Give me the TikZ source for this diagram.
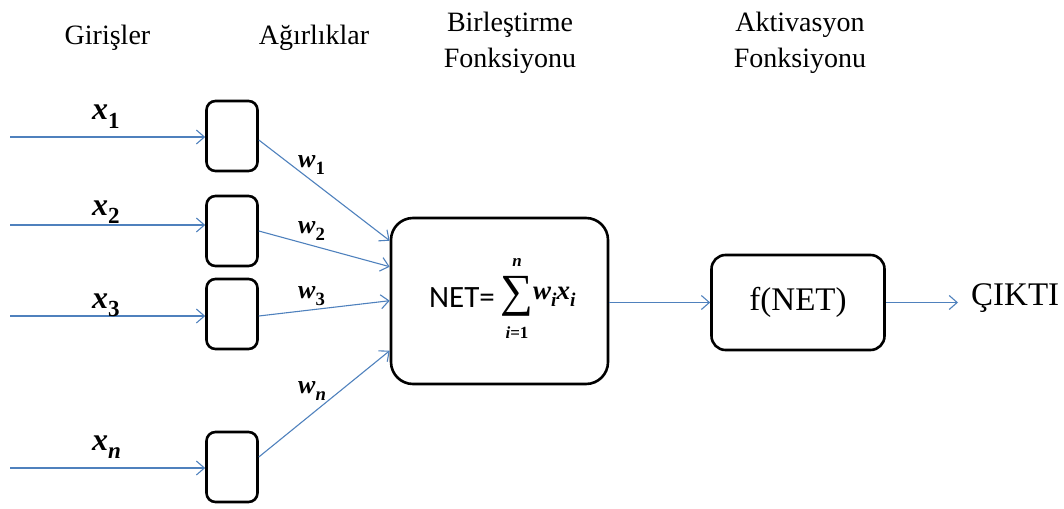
\documentclass[tikz,border=0pt]{standalone}
\usepackage{fontspec}
\setmainfont{Liberation Serif}
\newfontfamily\calibri{Carlito}
\usetikzlibrary{arrows.meta,calc}
\definecolor{linkblue}{RGB}{79,129,189}
% bold italic symbol with a lowered subscript
\newcommand{\bvar}[2]{{\bfseries\itshape #1}\raisebox{-0.28em}{\fontsize{0.72em}{0.72em}\selectfont\bfseries #2}}
\begin{document}
\begin{tikzpicture}[x=1pt,y=-1pt,
  cell/.style={draw,line width=2.6pt,rounded corners=9pt,minimum width=51pt,minimum height=70pt,inner sep=0pt},
  bigbox/.style={draw,line width=2.6pt,rounded corners=22pt,inner sep=0pt},
  link/.style={draw=linkblue,line width=1.1pt,-{Straight Barb[length=8pt,width=14pt]}},
  head/.style={font=\fontsize{28}{36}\selectfont,anchor=base,inner sep=0pt},
  var/.style={font=\fontsize{32}{32}\selectfont,inner sep=0pt,anchor=base west},
  wvar/.style={font=\fontsize{26}{26}\selectfont,inner sep=0pt,anchor=base west},
  lim/.style={font=\fontsize{17}{17}\selectfont\bfseries,inner sep=0pt},
  big/.style={font=\fontsize{33}{36}\selectfont}]
\useasboundingbox (0,0) rectangle (1064,508);

% column headings
\node[head] (hin)   at (107.5,45) {Girişler};
\node[head] (hw)    at (314,45) {Ağırlıklar};
\node[head] (hsum)  at (510,32) {Birleştirme};
\node[head] (hsum2) at (510,68) {Fonksiyonu};
\node[head] (hact)  at (800,32) {Aktivasyon};
\node[head] (hact2) at (800,68) {Fonksiyonu};

% weight cells
\node[cell] (c1) at (232,136) {};
\node[cell] (c2) at (232,231) {};
\node[cell] (c3) at (232,314) {};
\node[cell] (c4) at (232,467) {};

% summation block with its formula
\node[bigbox,minimum width=217pt,minimum height=166pt] (net) at (499.5,301) {};
\node[font=\calibri\fontsize{31}{31}\selectfont,anchor=east,inner sep=0pt] (netl) at (495,298) {NET=};
\node[font=\fontsize{46}{46}\selectfont,inner sep=0pt] (sig) at (517,296) {∑};
\node[lim,font=\fontsize{17}{17}\selectfont\bfseries\itshape] (sup) at (517,262) {n};
\node[lim] (sub) at (517,333) {\textit{i}=1};
\node[font=\fontsize{27}{27}\selectfont,anchor=west,inner sep=0pt] (wx) at (533,297) {\bvar{w}{\itshape i}\bvar{x}{\itshape i}};

% activation block
\node[bigbox,rounded corners=14pt,minimum width=173pt,minimum height=95pt,big] (f) at (798,302.5) {f(NET)};

% input lines
\coordinate (in1) at (10,137);
\coordinate (in2) at (10,225);
\coordinate (in3) at (10,316);
\coordinate (in4) at (10,468);
\draw[link] (in1) -- (in1 -| c1.west);
\draw[link] (in2) -- (in2 -| c2.west);
\draw[link] (in3) -- (in3 -| c3.west);
\draw[link] (in4) -- (in4 -| c4.west);

\node[var] (x1) at (92,120) {\bvar{x}{1}};
\node[var] (x2) at (92,215) {\bvar{x}{2}};
\node[var] (x3) at (92,308) {\bvar{x}{3}};
\node[var] (xn) at (92,450) {\bvar{x}{\itshape n}};

% weighted links into the summation block
\draw[link] ($(c1.east)+(0,4)$) -- ($(net.north west)+(0,24)$);
\draw[link] (c2.east) -- ($(net.north west)+(0,50)$);
\draw[link] ($(c3.east)+(0,2)$) -- ($(net.north west)+(0,84)$);
\draw[link] ($(c4.east)+(0,-10)$) -- ($(net.north west)+(0,134)$);

\node[wvar] (w1) at (298,167) {\bvar{w}{1}};
\node[wvar] (w2) at (298,233) {\bvar{w}{2}};
\node[wvar] (w3) at (298,298) {\bvar{w}{3}};
\node[wvar] (wn) at (298,393) {\bvar{w}{\itshape n}};

% output path
\draw[link] (net.east |- f.west) -- (f.west);
\coordinate (out) at (958,302.5);
\draw[link] (f.east) -- (out);
\node[big,anchor=base west,inner sep=0pt] (y) at (971,305) {ÇIKTI};
\end{tikzpicture}
\end{document}
